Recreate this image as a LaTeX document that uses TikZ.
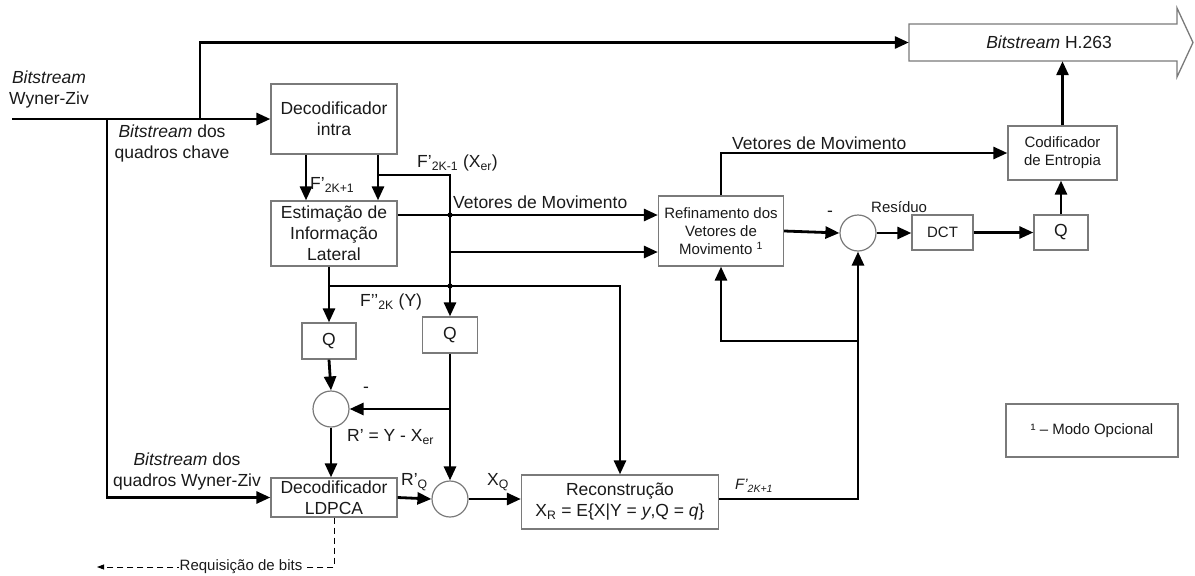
\documentclass[tikz,border=0pt]{standalone}
\usepackage{fontspec}
\setmainfont{Liberation Sans}
\usetikzlibrary{arrows.meta}
\definecolor{boxgray}{HTML}{7A7A7A}
\definecolor{txt}{HTML}{1A1A1A}
\begin{document}
\begin{tikzpicture}[x=1pt,y=-1pt,
  big/.style={font=\fontsize{17.5}{21}\selectfont},
  small/.style={font=\fontsize{15}{18}\selectfont},
  box/.style={draw=boxgray, line width=1.3pt, inner sep=0pt, align=center, text=txt, fill=white},
  sum/.style={circle, draw=boxgray, line width=1.2pt, minimum size=36pt, inner sep=0pt},
  conn/.style={line width=2.8pt, -{Triangle[length=14pt,width=12pt]}},
  lbl/.style={text=txt, inner sep=0pt},
]
\useasboundingbox (0,0) rectangle (1195,576);

% blocks
\node[box,big,minimum width=126pt,minimum height=70pt] (intra) at (334,119) {Decodificador\\intra};
\node[box,big,minimum width=126pt,minimum height=65pt] (est) at (334,233.5) {Estimação de\\Informação\\Lateral};
\node[box,big,minimum width=54pt,minimum height=36pt] (qL) at (329,341) {Q};
\node[box,big,minimum width=55pt,minimum height=36pt] (qR) at (450,335) {Q};
\node[sum] (cL) at (331,409) {};
\node[box,big,minimum width=126pt,minimum height=39pt] (ldpca) at (334,497.5) {Decodificador\\LDPCA};
\node[sum] (cB) at (450,499) {};
\node[box,big,minimum width=197pt,minimum height=54pt] (rec) at (620,502) {Reconstrução\\X\textsubscript{R} = E\{X|Y = \textit{y},Q = \textit{q}\}};
\node[box,small,minimum width=125pt,minimum height=70pt] (ref) at (721,231) {Refinamento dos\\Vetores de\\Movimento \textsuperscript{1}};
\node[sum] (cR) at (858,233) {};
\node[box,small,minimum width=61pt,minimum height=35pt] (dct) at (942.5,232.5) {DCT};
\node[box,big,minimum width=54pt,minimum height=35pt] (qT) at (1061,232.5) {Q};
\node[box,small,minimum width=109pt,minimum height=54pt] (cod) at (1062.5,153) {Codificador\\de Entropia};
\draw[draw=boxgray,line width=1.3pt,fill=white] (909,24) -- (1177,24) -- (1177,8) -- (1193,42.5) -- (1177,77) -- (1177,61) -- (909,61) -- cycle;
\node[big,minimum width=268pt,minimum height=37pt,inner sep=0pt,text=txt] (h263) at (1043,42.5) {\hspace*{12pt}\textit{Bitstream} H.263};
\node[box,small,minimum width=172pt,minimum height=53pt] (leg) at (1092,430.5) {¹ – Modo Opcional};

% coordinates
\coordinate (in) at (12,119);
\coordinate (b1) at (107,119);
\coordinate (b2) at (200,119);
\coordinate (j1) at (378,175);
\coordinate (v1) at (0,215);
\coordinate (v2) at (450,252);
\coordinate (j3) at (329,286);
\coordinate (j4) at (450,409);
\coordinate (j5) at (858,341);
\coordinate (rq) at (97,567);

% connectors
\draw[conn] (in) -- (intra.west);
\draw[conn] (b2) |- (h263.west);
\draw[conn] (b1) |- (ldpca.west);
\draw[conn] ([xshift=-28pt]intra.south) -- ([xshift=-28pt]est.north);
\draw[conn] ([xshift=44pt]intra.south) -- ([xshift=44pt]est.north);
\draw[conn] (j1) -| (qR.north);
\draw[conn] (est.east |- v1) -- (ref.west |- v1);
\draw[conn] (v2) -- (ref.west |- v2);
\draw[conn] (est.south -| qL) -- (qL.north);
\draw[conn] (j3) -| (rec.north);
\fill (450,215) circle (2.6pt);
\fill (450,286) circle (2.6pt);
\draw[conn] (qL.south) -- (cL.north);
\draw[conn] (qR.south) -- (cB.north);
\draw[conn] (j4) -- (cL.east);
\draw[conn] (cL.south) -- (cL.south |- ldpca.north);
\draw[conn] (ldpca.east) -- (cB.west);
\draw[conn] (cB.east) -- (cB.east -| rec.west);
\draw[conn] (cB -| rec.east) -| (cR.south);
\draw[conn] (j5) -| (ref.south);
\draw[conn] (ref.north) |- (cod.west);
\draw[conn] (ref.east) -- (cR.west);
\draw[conn] (cR.east) -- (cR.east -| dct.west);
\draw[conn] (dct.east) -- (qT.west);
\draw[conn] (qT.north) -- (qT.north |- cod.south);
\draw[conn] (cod.north) -- (cod.north |- h263.south);
\draw[line width=0.8pt, dash pattern=on 6pt off 4pt, -{Triangle[length=7pt,width=5pt]}] (ldpca.south) |- (rq);
\node[small, fill=white, inner sep=1pt, text=txt] (rqt) at (241,567) {Requisição de bits};

% labels
\node[big,lbl,align=center] (l1) at (49,89) {\textit{Bitstream}\\Wyner-Ziv};
\node[big,lbl,align=center] (l2) at (172,143) {\textit{Bitstream} dos\\quadros chave};
\node[big,lbl,anchor=west] (l3) at (310,185) {F’\textsubscript{2K+1}};
\node[big,lbl,anchor=west] (l4) at (417,163) {F’\textsubscript{2K-1} (X\textsubscript{er})};
\node[big,lbl,anchor=west] (l5) at (453,202) {Vetores de Movimento};
\node[big,lbl,anchor=west] (l6) at (360,302) {F’’\textsubscript{2K} (Y)};
\node[big,lbl] (l7) at (366,390) {-};
\node[big,lbl,anchor=west] (l8) at (347,437) {R’ = Y - X\textsubscript{er}};
\node[big,lbl,align=center] (l9) at (187,471) {\textit{Bitstream} dos\\quadros Wyner-Ziv};
\node[big,lbl,anchor=west] (l10) at (401,482) {R’\textsubscript{Q}};
\node[big,lbl,anchor=west] (l11) at (487,482) {X\textsubscript{Q}};
\node[small,lbl,anchor=west] (l12) at (735,486) {\textit{F’\textsubscript{2K+1}}};
\node[big,lbl,anchor=west] (l13) at (732,143) {Vetores de Movimento};
\node[big,lbl] (l14) at (830,214) {-};
\node[small,lbl,anchor=west] (l15) at (871,207) {Resíduo};
\end{tikzpicture}
\end{document}
